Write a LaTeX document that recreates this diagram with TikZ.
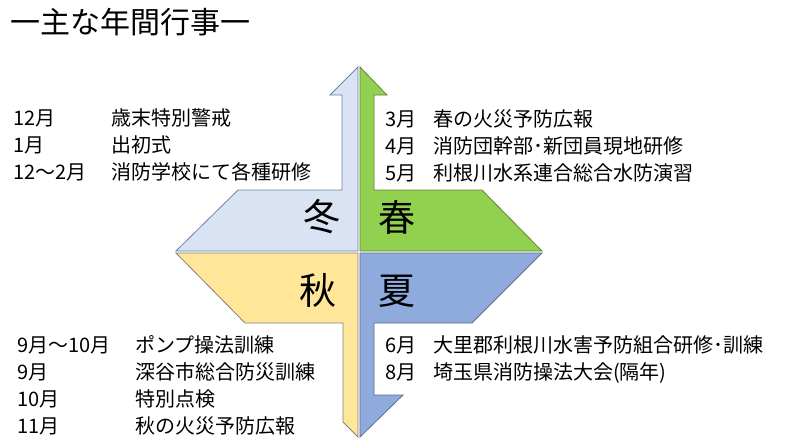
\documentclass[tikz,border=0pt]{standalone}
\usepackage{fontspec}
\setmainfont{Noto Sans CJK JP}
\usepackage{tikz}
\usetikzlibrary{positioning}
\definecolor{fuyublue}{RGB}{218,227,243}
\definecolor{harugreen}{RGB}{146,208,80}
\definecolor{akiyellow}{RGB}{255,230,153}
\definecolor{natsublue}{RGB}{143,170,220}

\begin{document}
\begin{tikzpicture}[x=1pt,y=-1pt,
 season/.style={line width=0.8pt,line join=miter},
 month/.style={anchor=base west,inner sep=0pt,font=\fontsize{20}{24}\selectfont},
 event/.style={anchor=base west,inner sep=0pt,font=\fontsize{20}{24}\selectfont},
 kigo/.style={font=\fontsize{37}{40}\selectfont,inner sep=0pt}]
\useasboundingbox (0,0) rectangle (800,447);
\node[anchor=west,inner sep=0pt,font=\fontsize{30}{34}\selectfont] (title) at (10,22) {一主な年間行事一};
% four seasons
\filldraw[season,fill=fuyublue,draw=natsublue!75!black] (358,67) -- (330,95) -- (342,95) -- (342,190) -- (238,190) -- (176,251) -- (358,251) -- cycle;
\filldraw[season,fill=harugreen,draw=harugreen!65!black] (360,67) -- (387,95) -- (374,95) -- (374,190) -- (482,190) -- (542,251) -- (360,251) -- cycle;
\filldraw[season,fill=akiyellow,draw=black!50] (176,253) -- (245,323) -- (343,323) -- (343,422) -- (358,437) -- (358,253) -- cycle;
\filldraw[season,fill=natsublue,draw=natsublue!65!black] (360,253) -- (542,253) -- (472,323) -- (374,323) -- (374,395) -- (403,395) -- (360,437) -- cycle;
\node[kigo] (fuyu) at (322,217) {冬};
\node[kigo] (haru) at (397,217) {春};
\node[kigo] (aki) at (318,290) {秋};
\node[kigo] (natsu) at (397,291) {夏};
% winter
\node[month] (m12) at (13,125) {12月};
\node[month] (m1) at (13,152) {1月};
\node[month] (m122) at (13,179) {12～2月};
\node[event] (e12) at (111,125) {歳末特別警戒};
\node[event] (e1) at (111,152) {出初式};
\node[event] (e122) at (111,179) {消防学校にて各種研修};
% spring
\node[month] (m3) at (385,126) {3月};
\node[month] (m4) at (385,153) {4月};
\node[month] (m5) at (385,180) {5月};
\node[event] (e3) at (433,126) {春の火災予防広報};
\node[event] (e4) at (433,153) {消防団幹部･新団員現地研修};
\node[event] (e5) at (433,180) {利根川水系連合総合水防演習};
% summer
\node[month] (m6) at (385,352) {6月};
\node[month] (m8) at (385,379) {8月};
\node[event] (e6) at (433,352) {大里郡利根川水害予防組合研修･訓練};
\node[event] (e8) at (433,379) {埼玉県消防操法大会(隔年)};
% autumn
\node[month] (m910) at (17,352) {9月～10月};
\node[month] (m9) at (17,379) {9月};
\node[month] (m10) at (17,406) {10月};
\node[month] (m11) at (17,433) {11月};
\node[event] (e910) at (135,352) {ポンプ操法訓練};
\node[event] (e9) at (135,379) {深谷市総合防災訓練};
\node[event] (e10) at (135,406) {特別点検};
\node[event] (e11) at (135,433) {秋の火災予防広報};
\end{tikzpicture}
\end{document}
